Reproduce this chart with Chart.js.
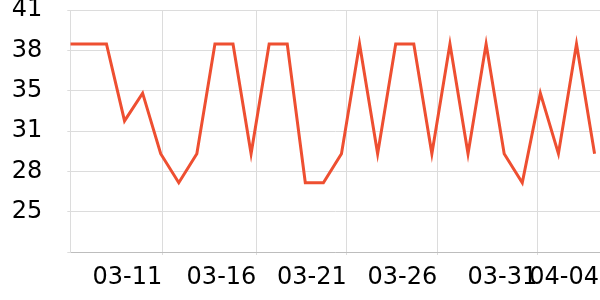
<!DOCTYPE html>
<html>
<head>
<meta charset="utf-8">
<script src="https://cdn.jsdelivr.net/npm/chart.js@4/dist/chart.umd.min.js"></script>
<style>
  html, body { margin: 0; padding: 0; background: #fff; }
  #wrap { width: 600px; height: 300px; }
</style>
</head>
<body>
<div id="wrap"><canvas id="chart" width="600" height="300"></canvas></div>
<script>
// Daily values, 03-06 .. 04-04
const days = ['03-06','03-07','03-08','03-09','03-10','03-11','03-12','03-13','03-14','03-15',
              '03-16','03-17','03-18','03-19','03-20','03-21','03-22','03-23','03-24','03-25',
              '03-26','03-27','03-28','03-29','03-30','03-31','04-01','04-02','04-03','04-04'];
const values = [38.3, 38.3, 38.3, 32.2, 34.4, 29.6, 27.3, 29.6, 38.3, 38.3,
                29.6, 38.3, 38.3, 27.3, 27.3, 29.6, 38.3, 29.6, 38.3, 38.3,
                29.6, 38.3, 29.6, 38.3, 29.6, 27.3, 34.4, 29.6, 38.3, 29.6];

// x ticks (in day units from the first day) and their labels
const xTickValues = [5.09, 10.29, 15.29, 20.3, 25.83, 29.24];
const xTickLabels = ['03-11', '03-16', '03-21', '03-26', '03-31', '04-04'];

// y ticks
const yTickValues = [21.8, 25, 28.2, 31.4, 34.6, 37.8, 41];

// drop the extra label padding chart.js reserves, the chart area is set by layout.padding
function noEdgePadding(axis) {
    axis.paddingTop = 0;
    axis.paddingBottom = 0;
    axis.paddingLeft = 0;
    axis.paddingRight = 0;
}

const ctx = document.getElementById('chart').getContext('2d');
new Chart(ctx, {
    type: 'line',
    data: {
        datasets: [{
            data: values.map((v, i) => ({ x: i, y: v })),
            borderColor: '#ee4f31',
            borderWidth: 3,
            pointRadius: 0,
            tension: 0,
            fill: false
        }]
    },
    options: {
        responsive: false,
        animation: false,
        layout: { padding: { left: 12, right: 0, top: 10, bottom: 8 } },
        plugins: { legend: { display: false }, tooltip: { enabled: false } },
        scales: {
            x: {
                type: 'linear',
                min: 0,
                max: 29.3,
                afterBuildTicks: axis => { axis.ticks = xTickValues.map(v => ({ value: v })); },
                afterFit: axis => { noEdgePadding(axis); axis.height = 40; },
                ticks: {
                    align: 'end',
                    maxRotation: 0,
                    autoSkip: false,
                    padding: 8,
                    color: '#000',
                    font: { family: 'DejaVu Sans', size: 24 },
                    callback: (v, i) => xTickLabels[i]
                },
                // the last tick sits on the right edge, no line drawn there
                grid: {
                    color: c => c.index === xTickValues.length - 1 ? 'rgba(0,0,0,0)' : '#dcdcdc',
                    tickLength: 3
                },
                border: { color: '#bdbdbd' }
            },
            y: {
                min: 21.8,
                max: 41,
                afterBuildTicks: axis => { axis.ticks = yTickValues.map(v => ({ value: v })); },
                afterFit: axis => { noEdgePadding(axis); axis.width = 58.3; },
                ticks: {
                    padding: 25,
                    color: '#000',
                    font: { family: 'DejaVu Sans', size: 24 },
                    callback: v => v < 22 ? '' : Math.round(v)
                },
                grid: { color: '#dcdcdc', tickLength: 3 },
                border: { color: '#dcdcdc' }
            }
        }
    }
});
</script>
</body>
</html>
